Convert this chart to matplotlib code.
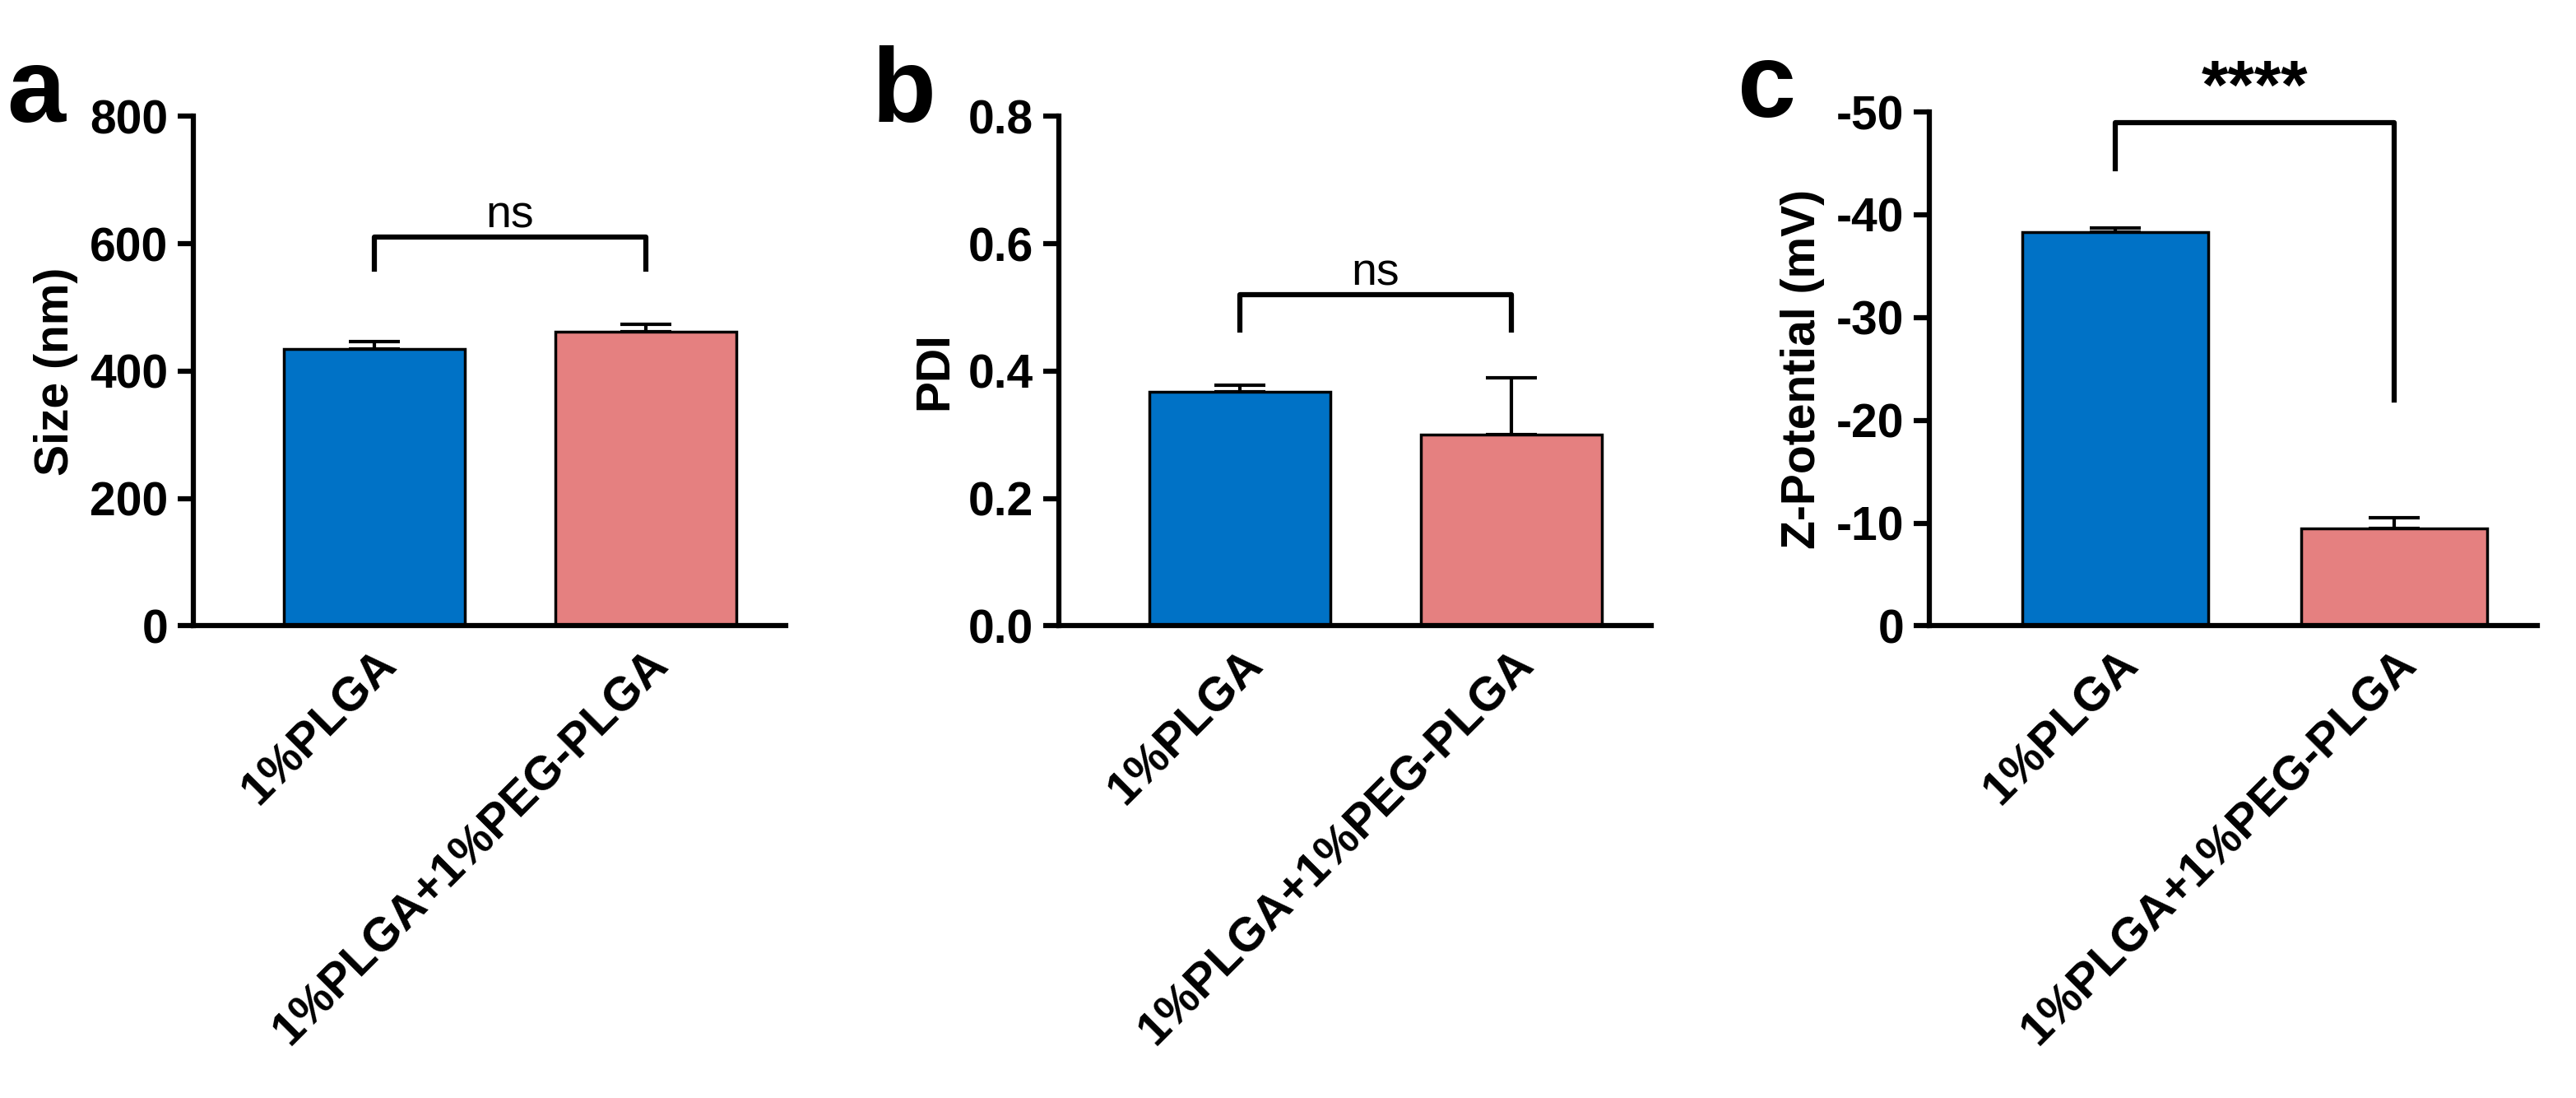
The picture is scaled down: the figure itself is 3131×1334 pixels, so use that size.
import matplotlib
matplotlib.use("Agg")
import matplotlib.pyplot as plt

plt.rcParams['font.family'] = ['Liberation Sans', 'DejaVu Sans']
plt.rcParams['font.weight'] = 'bold'

groups = ["1%PLGA", "1%PLGA+1%PEG-PLGA"]
size_mean = [435, 462]
size_err = [12, 12]
pdi_mean = [0.368, 0.300]
pdi_err = [0.010, 0.090]
zeta_mean = [-38.3, -9.5]
zeta_err = [0.4, 1.0]
colors = ["#0072C6", "#E58080"]

fig = plt.figure(figsize=(31.31, 13.34), dpi=100)
lw = 4.5
fs = 41

def setup(ax, mean, err, ylim, ticks, ylabel, ticklabels, letter, errsign=1):
    x = [0, 1]
    ax.bar(x, mean, width=0.667, color=colors, edgecolor='black', linewidth=2.5, zorder=2)
    for xi, m, e in zip(x, mean, err):
        ax.errorbar(xi, m, yerr=[[0], [e]] if errsign > 0 else [[e], [0]],
                    color='black', capsize=22, elinewidth=3, capthick=3, zorder=1)
    ax.set_xlim(-0.667, 1.515)
    ax.set_ylim(*ylim)
    ax.set_yticks(ticks)
    ax.set_yticklabels(ticklabels, fontsize=fs, fontweight='bold')
    ax.set_xticks(x)
    ax.set_xticklabels(groups, rotation=45, ha='right', rotation_mode='anchor',
                       fontsize=fs, fontweight='bold')
    ax.set_ylabel(ylabel, fontsize=fs, fontweight='bold', labelpad=10)
    for s in ['top', 'right']:
        ax.spines[s].set_visible(False)
    for s in ['left', 'bottom']:
        ax.spines[s].set_linewidth(lw)
    ax.tick_params(width=lw, length=14, pad=8)
    ax.tick_params(axis='x', length=0, pad=14)
    ax.text(-0.315, 1.14, letter, transform=ax.transAxes, fontsize=92,
            fontweight='bold', va='top', ha='left')

def bracket(ax, y0, y1, ytop, text, tfs, weight):
    ax.plot([0, 0, 1, 1], [y0, ytop, ytop, y1], color='black', lw=4.5, clip_on=False)
    ax.text(0.5, ytop, text, ha='center', va='bottom', fontsize=tfs, fontweight=weight)

ax1 = fig.add_axes([0.075, 0.43, 0.23, 0.464])
setup(ax1, size_mean, size_err, (0, 800), [0, 200, 400, 600, 800], "Size (nm)",
      ["0", "200", "400", "600", "800"], "a")
bracket(ax1, 560, 560, 610, "ns", 40, 'normal')

ax2 = fig.add_axes([0.411, 0.43, 0.23, 0.464])
setup(ax2, pdi_mean, pdi_err, (0, 0.8), [0, 0.2, 0.4, 0.6, 0.8], "PDI",
      ["0.0", "0.2", "0.4", "0.6", "0.8"], "b")
bracket(ax2, 0.465, 0.465, 0.52, "ns", 40, 'normal')

ax3 = fig.add_axes([0.749, 0.43, 0.236, 0.468])
setup(ax3, zeta_mean, zeta_err, (0, -50), [0, -10, -20, -30, -40, -50], "Z-Potential (mV)",
      ["0", "-10", "-20", "-30", "-40", "-50"], "c", errsign=-1)
bracket(ax3, -44.5, -22, -49, "****", 60, 'bold')

fig.savefig("out.png", dpi=100)
